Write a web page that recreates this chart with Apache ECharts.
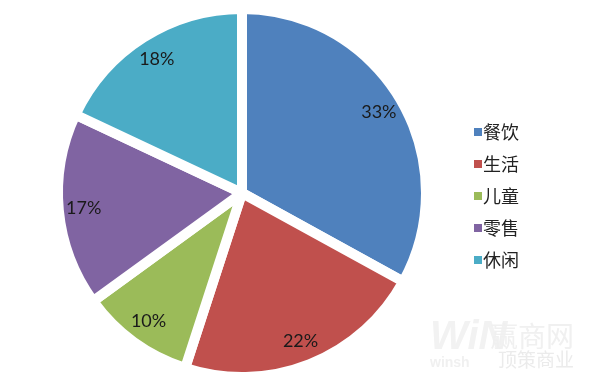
<!DOCTYPE html>
<html><head><meta charset="utf-8">
<script src="https://cdn.jsdelivr.net/npm/echarts@6/dist/echarts.min.js"></script>
<style>html,body{margin:0;padding:0;background:#fff}#c{width:590px;height:383px}</style>
</head><body><div id="c"></div>
<script>
const categories = ['餐饮','生活','儿童','零售','休闲'];
const values = [33,22,10,17,18];
const colors = ['#4F81BD','#C0504D','#9BBB59','#8064A2','#4BACC6'];

const data = categories.map((n,i)=>({name:n,value:values[i],itemStyle:{color:colors[i]}}));
const chart = echarts.init(document.getElementById('c'));
chart.setOption({
  animation:false,
  backgroundColor:'#fff',
  legend:{
    orient:'vertical', left:467, top:118, itemWidth:10, itemHeight:10, itemGap:14,
    icon:'rect',
    textStyle:{fontFamily:'Noto Sans CJK SC',fontSize:18,color:'#222',padding:[0,0,0,-5]},
    data:categories
  },
  graphic:[
    {type:'text',left:430,top:318,style:{text:'WiN',font:'bold italic 40px Liberation Sans',fill:'#f2f2f2'}},
    {type:'text',left:490,top:322,style:{text:'赢商网',font:'28px Noto Sans CJK SC',fill:'#f0f0f0'}},
    {type:'text',left:430,top:356,style:{text:'winsh',font:'bold 14px Liberation Sans',fill:'#f0f0f0'}},
    {type:'text',left:498,top:350,style:{text:'顶策商业',font:'19px Noto Sans CJK SC',fill:'#ebebeb'}}
  ],
  series:[
    {
      type:'pie', center:[242,193], radius:[0,184], startAngle:90, clockwise:true,
      label:{show:false}, labelLine:{show:false},
      itemStyle:{borderColor:'#fff',borderWidth:10},
      emphasis:{disabled:true}, silent:true,
      data:data
    },
    {
      type:'pie', center:[242,193], radius:[128,184], startAngle:90, clockwise:true,
      itemStyle:{color:'rgba(0,0,0,0)'},
      label:{show:true,position:'inside',formatter:'{c}%',fontFamily:'Lato',fontSize:18,color:'#1a1a1a'},
      labelLine:{show:false}, emphasis:{disabled:true}, silent:true,
      data:categories.map((n,i)=>({name:n,value:values[i]}))
    }
  ]
});
</script></body></html>
